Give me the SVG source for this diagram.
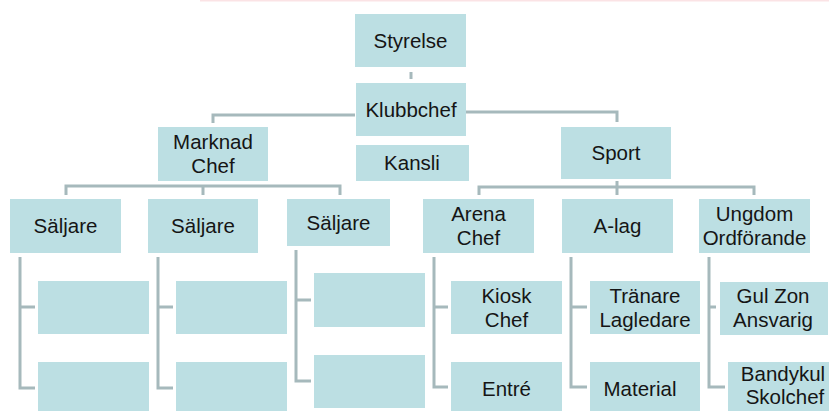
<svg xmlns="http://www.w3.org/2000/svg" width="829" height="411" viewBox="0 0 829 411">
<style>
.b{fill:#BCDFE3}
.t{font-family:"Liberation Sans",Arial,sans-serif;font-size:20.5px;fill:#151515;text-anchor:middle}
.c{fill:none;stroke:#A6B9BC;stroke-width:3}
</style>
<rect width="829" height="411" fill="#fff"/>
<line x1="200" y1="0.5" x2="829" y2="0.5" stroke="#FBE3E5" stroke-width="2"/>
<g id="connectors" class="c">
<path d="M411 72V79"/>
<path d="M355 115H213V123"/>
<path d="M466 112H617V122"/>
<path d="M66 195V186H340V195M203 186V195"/>
<path d="M479 195V187H754V195M617 181V195"/>
<path d="M20 257V388H35M20 307H35"/>
<path d="M158 257V388H173M158 307H173"/>
<path d="M296 250V381H311M296 300H311"/>
<path d="M434 257V387H448M434 307H448"/>
<path d="M571 257V387H587M571 307H587"/>
<path d="M709 257V387H725M709 307H716"/>
</g>
<g id="styrelse"><rect class="b" x="355" y="14" width="111" height="53"/><text class="t" x="410.5" y="48">Styrelse</text></g>
<g id="klubbchef"><rect class="b" x="356" y="83" width="110" height="53"/><text class="t" x="411" y="117">Klubbchef</text></g>
<g id="marknad"><rect class="b" x="158" y="127" width="110" height="54"/><text class="t" x="213" y="149">Marknad</text><text class="t" x="213" y="173">Chef</text></g>
<g id="kansli"><rect class="b" x="356" y="145" width="113" height="36"/><text class="t" x="412" y="170">Kansli</text></g>
<g id="sport"><rect class="b" x="561" y="127" width="110" height="52"/><text class="t" x="616" y="160">Sport</text></g>
<g id="saljare1"><rect class="b" x="10" y="199" width="111" height="54"/><text class="t" x="65.5" y="233">Säljare</text></g>
<g id="saljare2"><rect class="b" x="148" y="199" width="110" height="54"/><text class="t" x="203" y="233">Säljare</text></g>
<g id="saljare3"><rect class="b" x="287" y="199" width="103" height="47"/><text class="t" x="338.5" y="230">Säljare</text></g>
<g id="arena"><rect class="b" x="423" y="199" width="111" height="54"/><text class="t" x="478.5" y="221">Arena</text><text class="t" x="478.5" y="245">Chef</text></g>
<g id="alag"><rect class="b" x="562" y="199" width="111" height="54"/><text class="t" x="617.5" y="233">A-lag</text></g>
<g id="ungdom"><rect class="b" x="699" y="199" width="111" height="54"/><text class="t" x="754.5" y="221">Ungdom</text><text class="t" x="754.5" y="245">Ordförande</text></g>
<g id="s1a"><rect class="b" x="38" y="281" width="111" height="53"/></g>
<g id="s1b"><rect class="b" x="38" y="362" width="111" height="54"/></g>
<g id="s2a"><rect class="b" x="176" y="281" width="111" height="53"/></g>
<g id="s2b"><rect class="b" x="176" y="362" width="111" height="54"/></g>
<g id="s3a"><rect class="b" x="314" y="273" width="111" height="54"/></g>
<g id="s3b"><rect class="b" x="314" y="355" width="111" height="53"/></g>
<g id="kiosk"><rect class="b" x="451" y="281" width="111" height="53"/><text class="t" x="506.5" y="303">Kiosk</text><text class="t" x="506.5" y="327">Chef</text></g>
<g id="entre"><rect class="b" x="451" y="362" width="111" height="54"/><text class="t" x="506.5" y="396">Entré</text></g>
<g id="tranare"><rect class="b" x="590" y="281" width="110" height="53"/><text class="t" x="645" y="303">Tränare</text><text class="t" x="645" y="327">Lagledare</text></g>
<g id="material"><rect class="b" x="590" y="362" width="110" height="54"/><text class="t" x="640" y="396">Material</text></g>
<g id="gulzon"><rect class="b" x="720" y="282" width="108" height="53"/><text class="t" x="773" y="303">Gul Zon</text><text class="t" x="773" y="327">Ansvarig</text></g>
<g id="bandykul"><rect class="b" x="728" y="362" width="110" height="54"/><text class="t" x="783" y="381">Bandykul</text><text class="t" x="785" y="404">Skolchef</text></g>
</svg>
